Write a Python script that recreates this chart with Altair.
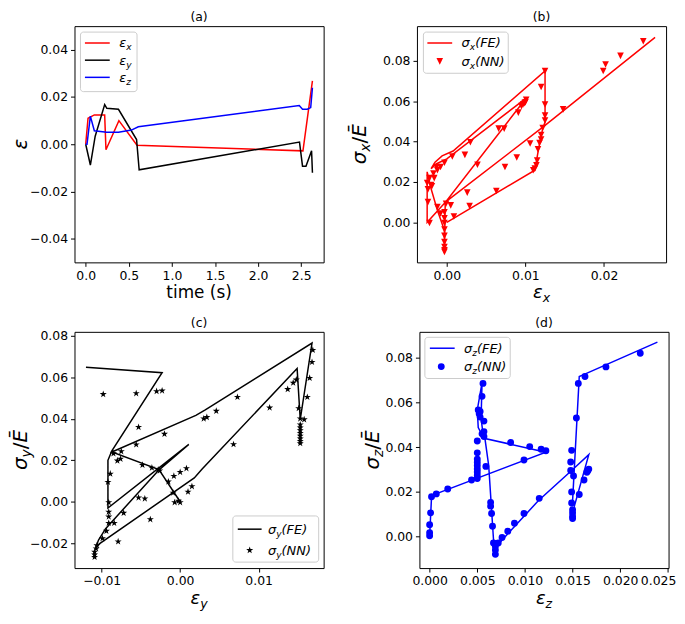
import altair as alt
import pandas as pd

FONT = "DejaVu Sans"
W, H = 251, 238

# ---------------- data ----------------
# panel (a): strain histories (time [s], strain)
A_EPS_X = [(0.0, 0.0), (0.027, 0.0110), (0.10, 0.0124), (0.22, 0.0124), (0.235, -0.0023),
           (0.385, 0.0100), (0.595, -0.0004), (2.52, -0.0028), (2.63, 0.0268)]
A_EPS_Y = [(0.0, 0.0), (0.054, -0.0088), (0.11, 0.0034), (0.22, 0.0168), (0.245, 0.0152),
           (0.38, 0.0148), (0.59, 0.0020), (0.62, -0.0108), (2.48, 0.0009), (2.515, -0.0093),
           (2.555, -0.0093), (2.62, -0.0028), (2.63, -0.0121)]
A_EPS_Z = [(0.0, 0.0), (0.015, 0.0), (0.054, 0.0119), (0.10, 0.0057), (0.245, 0.0051),
           (0.38, 0.0051), (0.53, 0.0060), (0.61, 0.0074), (2.477, 0.0164), (2.515, 0.0148),
           (2.57, 0.0148), (2.61, 0.0155), (2.63, 0.0239)]

# panel (b): sigma_x / E vs eps_x
B_FE = [(0.0, 0.0), (0.0112, 0.0258), (0.0117, 0.0369), (0.0122, 0.0464), (0.0125, 0.0496),
        (0.0125, 0.0749), (0.0008, 0.0353), (-0.0006, 0.0329), (-0.0015, 0.0298), (-0.0020, 0.0266),
        (-0.0013, 0.0290), (0.0000, 0.0314), (0.0101, 0.0615), (-0.0002, 0.0098), (-0.0003, -0.0150),
        (-0.0003, -0.0040), (-0.0012, 0.0060), (-0.0021, 0.0180), (-0.0025, 0.0250), (-0.0025, 0.0000),
        (-0.0001, 0.0103), (0.0125, 0.0480), (0.0265, 0.0915)]
B_NN = [(-0.0022, 0.0219), (-0.0024, 0.0163), (-0.0024, 0.0100), (-0.0022, -0.0003), (-0.0016, 0.0219),
        (-0.0012, 0.0258), (-0.0008, 0.0274), (-0.0003, 0.0295), (0.0007, 0.0326), (0.0023, 0.0334),
        (0.0030, 0.0396), (0.0039, 0.0285), (-0.0012, 0.0076), (-0.0008, 0.0044), (-0.0001, 0.0092),
        (0.0005, 0.0084), (0.0009, 0.0029), (0.0026, 0.0147), (0.0029, 0.0081), (0.0066, 0.0464),
        (0.0073, 0.0464), (0.0074, 0.0274), (0.0089, 0.0321), (0.0091, 0.0543), (0.0095, 0.0575),
        (0.0099, 0.0590), (0.0100, 0.0594), (0.0101, 0.0607), (0.0097, 0.0583), (0.0106, 0.0390),
        (0.0063, 0.0155), (0.0125, 0.0749), (0.0120, 0.0670), (0.0125, 0.0583), (0.0125, 0.0528),
        (0.0125, 0.0504), (0.0122, 0.0467), (0.0120, 0.0432), (0.0120, 0.0410), (0.0118, 0.0393),
        (0.0116, 0.0361), (0.0115, 0.0306), (0.0114, 0.0282), (0.0112, 0.0266), (0.0110, 0.0258),
        (0.0148, 0.0559), (0.0199, 0.0749), (0.0202, 0.0781), (0.0221, 0.0824), (0.0250, 0.0896),
        (-0.0003, 0.0050), (-0.0003, 0.0020), (-0.0003, -0.0003), (-0.0003, -0.0035), (-0.0003, -0.0067),
        (-0.0003, -0.0098), (-0.0003, -0.0122), (-0.0003, -0.0138), (-0.0003, -0.0146), (-0.0025, 0.0195),
        (-0.0020, 0.0185), (-0.0019, 0.0179), (-0.0017, 0.0242), (-0.0013, 0.0274)]

# panel (c): sigma_y / E vs eps_y
C_FE = [(0.0, 0.0), (-0.0027, 0.0155), (-0.0087, 0.0240), (0.0020, 0.0417), (0.0032, 0.0443),
        (0.0168, 0.0766), (0.0153, 0.0397), (0.0149, 0.0643), (0.0028, 0.0158), (0.0018, 0.0115),
        (-0.0103, -0.0203), (-0.0108, -0.0225), (-0.0104, -0.0185), (-0.0095, -0.0130), (-0.0028, 0.0150),
        (0.0011, 0.0277), (-0.0092, -0.0030), (-0.0092, 0.0200), (-0.0087, 0.0246), (-0.0023, 0.0623),
        (-0.0120, 0.0649)]
C_NN = [(-0.0098, 0.0519), (-0.0056, 0.0523), (-0.0030, 0.0533), (-0.0023, 0.0536), (-0.0053, 0.0360),
        (-0.0020, 0.0327), (-0.0056, 0.0276), (-0.0085, 0.0233), (-0.0075, 0.0243), (-0.0080, 0.0198),
        (-0.0076, 0.0207), (-0.0089, 0.0135), (-0.0092, 0.0095), (-0.0091, -0.0003), (-0.0091, -0.0049),
        (-0.0091, -0.0072), (-0.0091, -0.0103), (-0.0084, -0.0103), (-0.0094, -0.0141), (-0.0099, -0.0177),
        (-0.0079, -0.0192), (-0.0072, -0.0054), (-0.0053, 0.0020), (-0.0045, 0.0015), (-0.0038, -0.0085),
        (-0.0048, 0.0177), (-0.0036, 0.0164), (-0.0028, 0.0155), (-0.0026, 0.0150), (-0.0015, 0.0097),
        (-0.0009, 0.0043), (-0.0007, -0.0003), (-0.0002, 0.0004), (0.0000, -0.0003), (-0.0008, 0.0124),
        (0.0000, 0.0143), (0.0008, 0.0161), (0.0015, 0.0074), (0.0010, 0.0048), (-0.0107, -0.0226),
        (-0.0109, -0.0242), (-0.0109, -0.0255), (-0.0109, -0.0267), (-0.0106, -0.0211), (0.0030, 0.0401),
        (0.0034, 0.0408), (0.0046, 0.0438), (0.0073, 0.0505), (0.0068, 0.0277), (0.0114, 0.0454),
        (0.0137, 0.0543), (0.0144, 0.0574), (0.0148, 0.0589), (0.0162, 0.0505), (0.0165, 0.0597),
        (0.0168, 0.0674), (0.0169, 0.0732), (0.0151, 0.0451), (0.0153, 0.0401), (0.0158, 0.0397),
        (0.0153, 0.0372), (0.0153, 0.0358), (0.0153, 0.0345), (0.0153, 0.0331), (0.0153, 0.0318),
        (0.0153, 0.0305), (0.0153, 0.0293), (0.0153, 0.0282)]

# panel (d): sigma_z / E vs eps_z
D_FE = [(0.0, 0.0), (0.0002, 0.0177), (0.0006, 0.0190), (0.0122, 0.0378), (0.0057, 0.0440),
        (0.0051, 0.0488), (0.0050, 0.0567), (0.0055, 0.0689), (0.0054, 0.0530), (0.0056, 0.0460),
        (0.0058, 0.0440), (0.0062, 0.0317), (0.0067, -0.0012), (0.0069, -0.0069), (0.0071, -0.0040),
        (0.0083, 0.0017), (0.0114, 0.0160), (0.0149, 0.0296), (0.0167, 0.0367), (0.0152, 0.0138),
        (0.0150, 0.0160), (0.0157, 0.0717), (0.0161, 0.0724), (0.0239, 0.0871)]
D_NN = [(0.0000, 0.0003), (0.0000, 0.0017), (0.0000, 0.0053), (0.0001, 0.0106), (0.0002, 0.0178),
        (0.0007, 0.0191), (0.0019, 0.0213), (0.0044, 0.0253), (0.0099, 0.0343), (0.0117, 0.0391),
        (0.0122, 0.0384), (0.0105, 0.0403), (0.0085, 0.0421), (0.0056, 0.0686), (0.0055, 0.0628),
        (0.0051, 0.0567), (0.0053, 0.0560), (0.0053, 0.0535), (0.0057, 0.0517), (0.0057, 0.0470),
        (0.0057, 0.0448), (0.0050, 0.0428), (0.0050, 0.0375), (0.0050, 0.0347), (0.0050, 0.0333),
        (0.0050, 0.0318), (0.0050, 0.0303), (0.0050, 0.0289), (0.0050, 0.0275), (0.0050, 0.0260),
        (0.0052, 0.0550), (0.0055, 0.0460), (0.0059, 0.0314), (0.0064, 0.0153), (0.0064, 0.0136),
        (0.0065, 0.0103), (0.0066, 0.0046), (0.0067, -0.0029), (0.0069, -0.0044), (0.0069, -0.0060),
        (0.0069, -0.0080), (0.0072, -0.0029), (0.0076, -0.0004), (0.0082, 0.0024), (0.0089, 0.0060),
        (0.0099, 0.0103), (0.0115, 0.0171), (0.0149, 0.0386), (0.0148, 0.0334), (0.0148, 0.0296),
        (0.0151, 0.0271), (0.0149, 0.0200), (0.0149, 0.0150), (0.0150, 0.0120), (0.0150, 0.0106),
        (0.0150, 0.0091), (0.0150, 0.0081), (0.0154, 0.0531), (0.0156, 0.0686), (0.0163, 0.0717),
        (0.0185, 0.0760), (0.0221, 0.0821), (0.0157, 0.0188), (0.0162, 0.0253), (0.0165, 0.0288),
        (0.0167, 0.0302), (0.0166, 0.0295)]

# axes: domains and tick values
A_XDOM, A_YDOM = [-0.13, 2.76], [-0.05, 0.05]
A_XT, A_YT = [0.0, 0.5, 1.0, 1.5, 2.0, 2.5], [-0.04, -0.02, 0.0, 0.02, 0.04]
B_XDOM, B_YDOM = [-0.00380, 0.0279], [-0.0198, 0.0971]
B_XT, B_YT = [0.0, 0.01, 0.02], [-0.02, 0.0, 0.02, 0.04, 0.06, 0.08]
C_XDOM, C_YDOM = [-0.01346, 0.01828], [-0.0320, 0.0820]
C_XT, C_YT = [-0.01, 0.0, 0.01], [-0.02, 0.0, 0.02, 0.04, 0.06, 0.08]
D_XDOM, D_YDOM = [-0.00107, 0.02507], [-0.01414, 0.0917]
D_XT, D_YT = [0.0, 0.005, 0.01, 0.015, 0.02, 0.025], [0.0, 0.02, 0.04, 0.06, 0.08]

STAR = ("M0,-1L0.2245,-0.309L0.951,-0.309L0.363,0.118L0.588,0.809L0,0.382"
        "L-0.588,0.809L-0.363,0.118L-0.951,-0.309L-0.2245,-0.309Z")
TRI_DOWN = "M-1,-1L1,-1L0,1Z"

ONE = pd.DataFrame({"k": [0]})

# approximate DejaVu Sans advance widths (em)
METRICS = {"(": 0.39, ")": 0.39, "a": 0.613, "b": 0.635, "c": 0.55, "d": 0.635, "t": 0.392,
           "i": 0.278, "m": 0.974, "e": 0.615, " ": 0.318, "s": 0.521, "x": 0.592, "y": 0.592,
           "z": 0.525, "E": 0.632, "F": 0.575, "N": 0.748, "/": 0.337, "σ": 0.634, "ε": 0.541,
           "Ē": 0.632}


def adv(s, size):
    return sum(METRICS.get(ch, 0.6) for ch in s) * size


def rich(pieces, x0, y0, angle=0, anchor="center"):
    """pieces: (text, size, italic, baseline shift)."""
    total = sum(adv(t, s) for t, s, _, _ in pieces)
    pos = -total / 2 if anchor == "center" else 0.0
    out = []
    for t, s, it, sh in pieces:
        if angle == 0:
            px, py = x0 + pos, y0 + sh
        else:
            px, py = x0 + sh, y0 - pos
        out.append(
            alt.Chart(ONE).mark_text(text=t, font=FONT, fontSize=s,
                                     fontStyle="italic" if it else "normal",
                                     angle=angle, align="left", baseline="alphabetic",
                                     color="black")
            .encode(x=alt.value(px), y=alt.value(py))
        )
        pos += adv(t, s)
    return out


def spacer(xv):
    return alt.Chart(ONE).mark_text(text=".", fontSize=8, opacity=0, align="left").encode(
        x=alt.value(xv), y=alt.value(H / 2))


def df_of(pairs):
    return pd.DataFrame({"x": [p[0] for p in pairs], "y": [p[1] for p in pairs],
                         "i": list(range(len(pairs)))})


def enc(xdom, ydom, xt, yt, xf, yf, xflush=False):
    xa = dict(values=xt, format=xf, title=None, labelOverlap=False, labelPadding=3)
    if xflush:
        xa.update(labelFlush=1, labelFlushOffset=8)
    else:
        xa.update(labelFlush=False)
    x = alt.X("x:Q", scale=alt.Scale(domain=xdom, nice=False, zero=False), axis=alt.Axis(**xa))
    y = alt.Y("y:Q", scale=alt.Scale(domain=ydom, nice=False, zero=False),
              axis=alt.Axis(values=yt, format=yf, title=None, labelOverlap=False,
                            labelPadding=3))
    return x, y


def line(pairs, color, x, y):
    return alt.Chart(df_of(pairs)).mark_line(color=color, strokeWidth=1.5).encode(
        x=x, y=y, order="i:Q")


def box(x1, y1, x2, y2):
    return alt.Chart(ONE).mark_rect(fill="white", fillOpacity=0.8, stroke="#cccccc",
                                    strokeWidth=1, cornerRadius=3).encode(
        x=alt.value(x1), x2=alt.value(x2), y=alt.value(y1), y2=alt.value(y2))


def lrule(x1, x2, yv, color):
    return alt.Chart(ONE).mark_rule(color=color, strokeWidth=1.5).encode(
        x=alt.value(x1), x2=alt.value(x2), y=alt.value(yv))


def lsym(xv, yv, shape, color, size):
    return alt.Chart(ONE).mark_point(shape=shape, filled=True, color=color, size=size,
                                     opacity=1).encode(x=alt.value(xv), y=alt.value(yv))


def label(sym, sub, rest, x0, yc):
    pieces = [(sym, 13, True, 0), (sub, 9.1, True, 3)]
    if rest:
        pieces.append((rest, 13, True, 0))
    return rich(pieces, x0, yc + 4.5, anchor="left")


def ytitle(sub, xb):
    if sub is None:
        return rich([("ε", 20, True, 0)], xb, H / 2, angle=270)
    return rich([("σ", 20, True, 0), (sub, 14, True, 4.5), ("/", 20, False, 0), ("Ē", 20, True, 0)],
                xb, H / 2, angle=270)


def xtitle_eps(sub, off):
    return rich([("ε", 18, True, 0), (sub, 12.6, True, 4)], W / 2, H + off)


def ptitle(s):
    return rich([(s, 12.5, False, 0)], W / 2, -5)


TOP_OFF, BOT_OFF = 36, 36
LX1, LX2, LXT = 10.5, 35.5, 45

# ---------------- panel (a) ----------------
xa, ya = enc(A_XDOM, A_YDOM, A_XT, A_YT, ".1f", ".2f")
pa = alt.layer(
    line(A_EPS_X, "red", xa, ya),
    line(A_EPS_Y, "black", xa, ya),
    line(A_EPS_Z, "blue", xa, ya),
    box(6, 6, 63, 66),
    lrule(LX1, LX2, 17, "red"), lrule(LX1, LX2, 34.3, "black"), lrule(LX1, LX2, 51.6, "blue"),
    *label("ε", "x", None, LXT, 17), *label("ε", "y", None, LXT, 34.3),
    *label("ε", "z", None, LXT, 51.6),
    *ptitle("(a)"),
    *rich([("time (s)", 17, False, 0)], W / 2, H + TOP_OFF),
    *ytitle(None, -48),
    spacer(-76),
).properties(width=W, height=H)

# ---------------- panel (b) ----------------
xb, yb = enc(B_XDOM, B_YDOM, B_XT, B_YT, ".2f", ".2f")
pb = alt.layer(
    line(B_FE, "red", xb, yb),
    alt.Chart(df_of(B_NN)).mark_point(shape=TRI_DOWN, filled=True, color="red", size=44,
                                      opacity=1).encode(x=xb, y=yb),
    box(6.5, 6, 92, 47.5),
    lrule(LX1, LX2, 17, "red"),
    lsym(23, 35.5, TRI_DOWN, "red", 44),
    *label("σ", "x", "(FE)", LXT, 17), *label("σ", "x", "(NN)", LXT, 35.5),
    *ptitle("(b)"),
    *xtitle_eps("x", TOP_OFF),
    *ytitle("x", -51.5),
).properties(width=W, height=H)

# ---------------- panel (c) ----------------
xc, yc = enc(C_XDOM, C_YDOM, C_XT, C_YT, ".2f", ".2f")
cx1, cy1 = W - 5 - 86.5, H - 6 - 46.5
pc = alt.layer(
    line(C_FE, "black", xc, yc),
    alt.Chart(df_of(C_NN)).mark_point(shape=STAR, filled=True, color="black", size=56,
                                      opacity=1).encode(x=xc, y=yc),
    box(cx1, cy1, W - 5, H - 6),
    lrule(cx1 + 5, cx1 + 29, cy1 + 13.3, "black"),
    lsym(cx1 + 17, cy1 + 34.5, STAR, "black", 56),
    *label("σ", "y", "(FE)", cx1 + 35.5, cy1 + 13.3),
    *label("σ", "y", "(NN)", cx1 + 35.5, cy1 + 34.5),
    *ptitle("(c)"),
    *xtitle_eps("y", BOT_OFF),
    *ytitle("y", -48),
    spacer(-76),
).properties(width=W, height=H)

# ---------------- panel (d) ----------------
xd, yd = enc(D_XDOM, D_YDOM, D_XT, D_YT, ".3f", ".2f", xflush=True)
pd_ = alt.layer(
    line(D_FE, "blue", xd, yd),
    alt.Chart(df_of(D_NN)).mark_circle(color="blue", size=48, opacity=1).encode(x=xd, y=yd),
    box(5.5, 5.5, 91.5, 47),
    lrule(LX1, LX2, 16.5, "blue"),
    lsym(22, 35, "circle", "blue", 48),
    *label("σ", "z", "(FE)", LXT, 16.5), *label("σ", "z", "(NN)", LXT, 35),
    *ptitle("(d)"),
    *xtitle_eps("z", BOT_OFF),
    *ytitle("z", -41),
).properties(width=W, height=H)

chart = alt.vconcat(
    alt.hconcat(pa, pb, spacing=25),
    alt.hconcat(pc, pd_, spacing=37.5),
    spacing=10,
).properties(
    padding={"left": -10, "top": 0, "right": 0, "bottom": 0}
).configure(
    background="white"
).configure_view(
    stroke="black", strokeWidth=1
).configure_axis(
    grid=False, domain=False, tickColor="black", tickSize=4, tickWidth=1,
    labelColor="black", labelFont=FONT, labelFontSize=12.5,
)

chart.save("out.html", embed_options={"renderer": "svg", "actions": False})
